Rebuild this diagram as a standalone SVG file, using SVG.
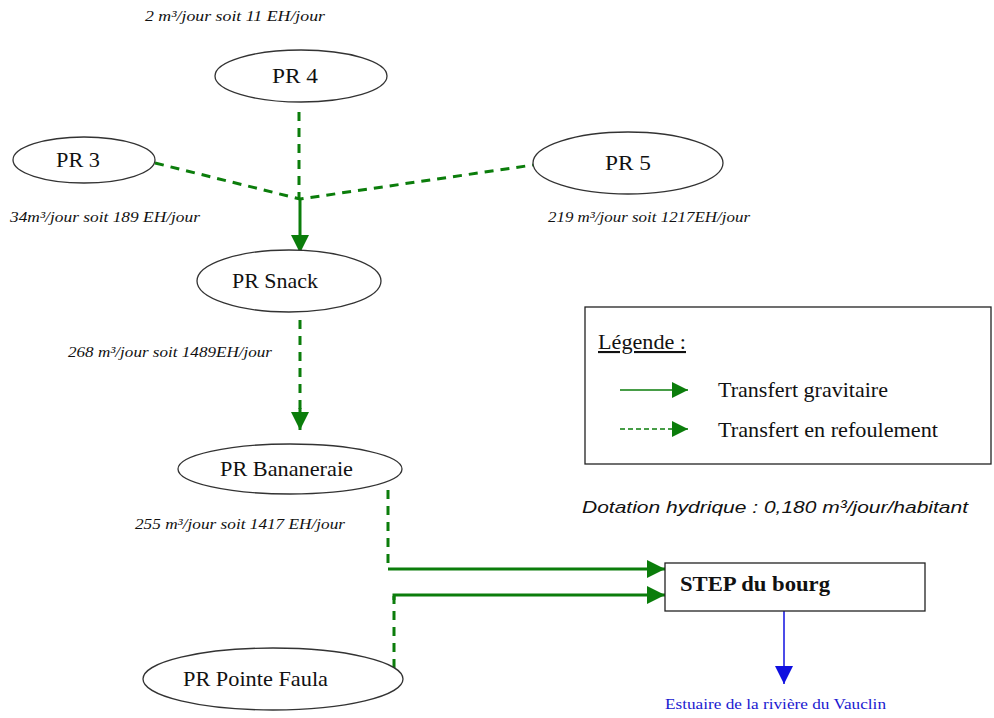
<svg xmlns="http://www.w3.org/2000/svg" width="994" height="718" viewBox="0 0 994 718">
<defs>
<marker id="agb" viewBox="0 0 10 10" refX="10" refY="5" markerWidth="18" markerHeight="18" markerUnits="userSpaceOnUse" orient="auto"><path d="M0,0 L10,5 L0,10 z" fill="#0b7d0b"/></marker>
<marker id="ab" viewBox="0 0 10 10" refX="10" refY="5" markerWidth="18" markerHeight="18" markerUnits="userSpaceOnUse" orient="auto"><path d="M0,0 L10,5 L0,10 z" fill="#1010e0"/></marker>
<marker id="agl" viewBox="0 0 10 10" refX="10" refY="5" markerWidth="16" markerHeight="16" markerUnits="userSpaceOnUse" orient="auto"><path d="M0,0 L10,5 L0,10 z" fill="#0b7d0b"/></marker>
</defs>
<style>
.node{fill:#fff;stroke:#333;stroke-width:1.3}
.lbl{font-family:"Liberation Serif",serif;font-size:21px;fill:#111}
.rate{font-family:"Liberation Serif",serif;font-style:italic;font-size:14px;fill:#111}
.dash{fill:none;stroke:#0b7d0b;stroke-width:3;stroke-dasharray:9,7}
.solid{fill:none;stroke:#0b7d0b;stroke-width:3}
.leg{font-family:"Liberation Serif",serif;font-size:21px;fill:#111}
</style>
<rect width="994" height="718" fill="#fff"/>

<g id="connectors">
<line class="dash" x1="299" y1="112" x2="299" y2="198"/>
<polyline class="dash" points="155,163 300,199 533,165"/>
<line class="solid" x1="300" y1="199" x2="300" y2="253" marker-end="url(#agb)"/>
<line class="dash" x1="300" y1="320" x2="300" y2="412"/>
<line class="solid" x1="300" y1="408" x2="300" y2="430" marker-end="url(#agb)"/>
<line class="dash" x1="388" y1="490" x2="388" y2="569"/>
<line class="solid" x1="388" y1="569" x2="665" y2="569" marker-end="url(#agb)"/>
<line class="dash" x1="394" y1="668" x2="394" y2="596"/>
<polyline class="solid" points="394,600 394,595 665,595" marker-end="url(#agb)"/>
<line x1="784" y1="611" x2="784" y2="684" stroke="#1010e0" stroke-width="1.5" marker-end="url(#ab)"/>
</g>

<g id="pr4"><ellipse class="node" cx="301" cy="76" rx="86" ry="26"/><text class="lbl" x="272" y="83" textLength="46" lengthAdjust="spacingAndGlyphs">PR 4</text></g>
<g id="pr3"><ellipse class="node" cx="84" cy="160" rx="71" ry="23"/><text class="lbl" x="56" y="167" textLength="44" lengthAdjust="spacingAndGlyphs">PR 3</text></g>
<g id="pr5"><ellipse class="node" cx="628" cy="163" rx="95" ry="31"/><text class="lbl" x="605" y="170" textLength="46" lengthAdjust="spacingAndGlyphs">PR 5</text></g>
<g id="prsnack"><ellipse class="node" cx="289" cy="281" rx="92" ry="31"/><text class="lbl" x="232" y="288" textLength="86" lengthAdjust="spacingAndGlyphs">PR Snack</text></g>
<g id="prbananeraie"><ellipse class="node" cx="290" cy="469" rx="112" ry="25"/><text class="lbl" x="220" y="476" textLength="133" lengthAdjust="spacingAndGlyphs">PR Bananeraie</text></g>
<g id="prpointefaula"><ellipse class="node" cx="273" cy="679" rx="130" ry="31"/><text class="lbl" x="183" y="686" textLength="145" lengthAdjust="spacingAndGlyphs">PR Pointe Faula</text></g>
<g id="step"><rect x="665" y="563" width="260" height="48" fill="#fff" stroke="#222" stroke-width="1.3"/><text x="680" y="591" font-family="Liberation Serif,serif" font-weight="bold" font-size="21" fill="#111" textLength="150" lengthAdjust="spacingAndGlyphs">STEP du bourg</text></g>

<g id="rates">
<text class="rate" x="145" y="21" textLength="180" lengthAdjust="spacingAndGlyphs">2 m³/jour soit 11 EH/jour</text>
<text class="rate" x="10" y="222" textLength="190" lengthAdjust="spacingAndGlyphs">34m³/jour soit 189 EH/jour</text>
<text class="rate" x="548" y="222" textLength="202" lengthAdjust="spacingAndGlyphs">219 m³/jour soit 1217EH/jour</text>
<text class="rate" x="68" y="357" textLength="204" lengthAdjust="spacingAndGlyphs">268 m³/jour soit 1489EH/jour</text>
<text class="rate" x="135" y="529" textLength="210" lengthAdjust="spacingAndGlyphs">255 m³/jour soit 1417 EH/jour</text>
</g>

<g id="legend">
<rect x="585" y="307" width="406" height="157" fill="#fff" stroke="#222" stroke-width="1.3"/>
<text class="leg" x="598" y="349" text-decoration="underline" textLength="88" lengthAdjust="spacingAndGlyphs">Légende :</text>
<line x1="620" y1="390" x2="688" y2="390" stroke="#0b7d0b" stroke-width="1.5" marker-end="url(#agl)"/>
<text class="leg" x="718" y="397" textLength="170" lengthAdjust="spacingAndGlyphs">Transfert gravitaire</text>
<line x1="620" y1="429" x2="688" y2="429" stroke="#0b7d0b" stroke-width="1.5" stroke-dasharray="5,3" marker-end="url(#agl)"/>
<text class="leg" x="718" y="437" textLength="220" lengthAdjust="spacingAndGlyphs">Transfert en refoulement</text>
</g>

<text x="582" y="513" font-family="Liberation Sans,sans-serif" font-style="italic" font-size="17" fill="#111" textLength="386" lengthAdjust="spacingAndGlyphs">Dotation hydrique :  0,180 m³/jour/habitant</text>
<text x="665" y="709" font-family="Liberation Serif,serif" font-size="14" fill="#1a1ad0" textLength="221" lengthAdjust="spacingAndGlyphs">Estuaire de la rivière du Vauclin</text>
</svg>
